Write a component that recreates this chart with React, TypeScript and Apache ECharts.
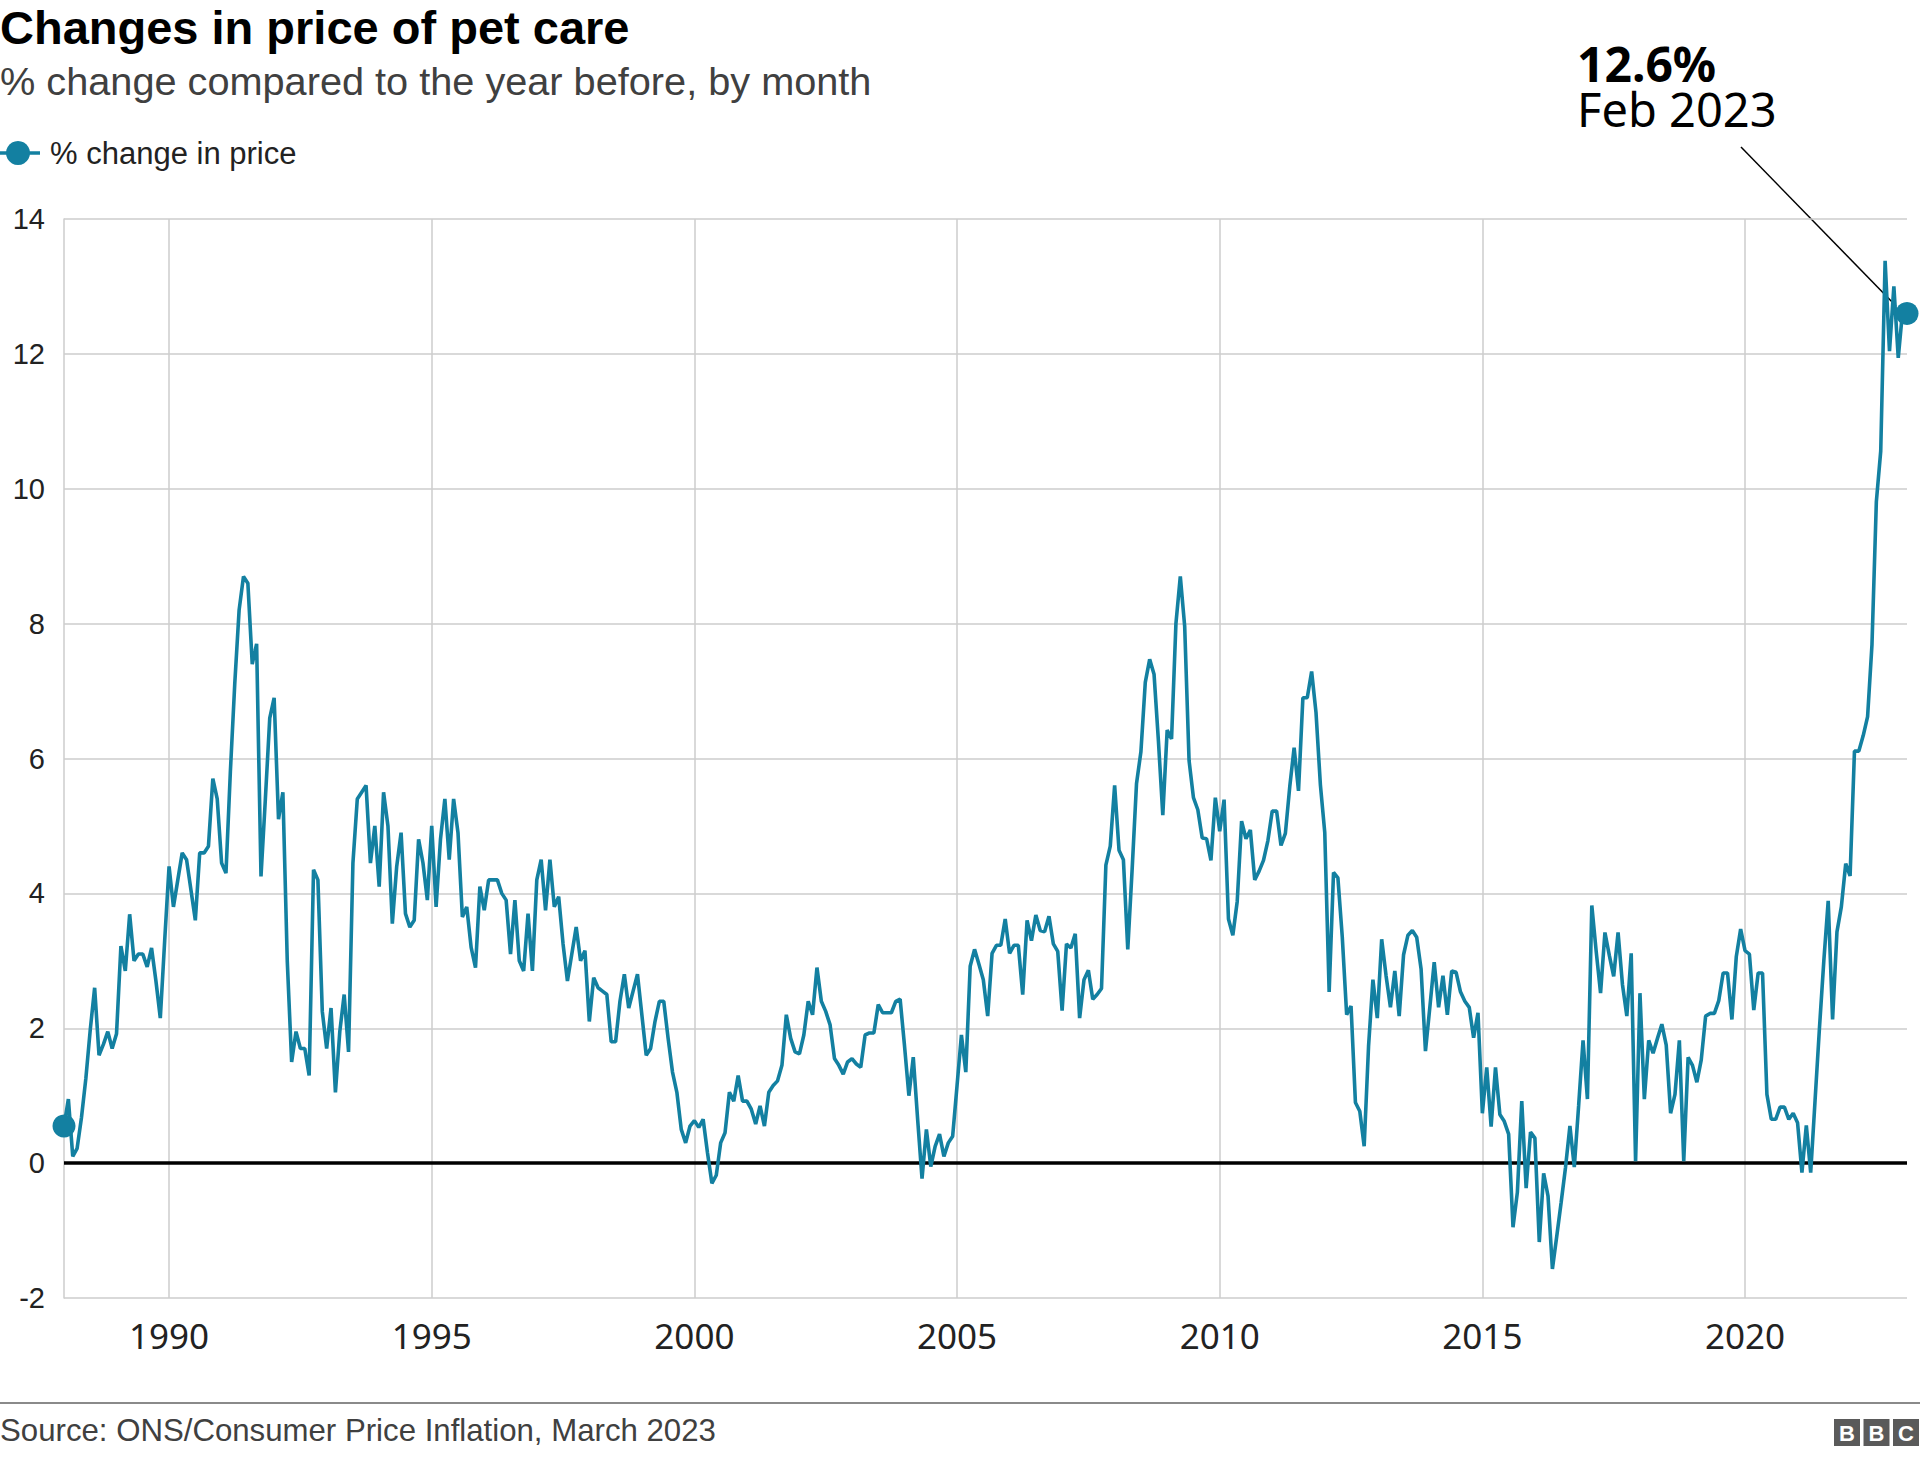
import React, { useEffect, useRef } from "react";
import * as echarts from "echarts";

// Monthly % change in price of pet care, year on year (Jan 1988 – Feb 2023)
const p1988 = [0.55, 0.95, 0.1, 0.22, 0.68, 1.26, 1.98, 2.6, 1.6, 1.76, 1.95, 1.7];
const p1989 = [1.92, 3.22, 2.85, 3.69, 3.0, 3.1, 3.1, 2.91, 3.19, 2.7, 2.15, 3.3];
const p1990 = [4.4, 3.8, 4.2, 4.6, 4.5, 4.05, 3.6, 4.6, 4.6, 4.7, 5.7, 5.4];
const p1991 = [4.45, 4.3, 5.8, 7.1, 8.2, 8.7, 8.6, 7.4, 7.7, 4.25, 5.4, 6.6];
const p1992 = [6.9, 5.1, 5.5, 3.0, 1.5, 1.95, 1.7, 1.7, 1.3, 4.35, 4.2, 2.25];
const p1993 = [1.7, 2.3, 1.05, 1.95, 2.5, 1.65, 4.45, 5.4, 5.5, 5.6, 4.45, 5.0];
const p1994 = [4.1, 5.5, 5.0, 3.55, 4.4, 4.9, 3.7, 3.5, 3.6, 4.8, 4.45, 3.9];
const p1995 = [5.0, 3.8, 4.8, 5.4, 4.5, 5.4, 4.9, 3.65, 3.8, 3.2, 2.9, 4.1];
const p1996 = [3.75, 4.2, 4.2, 4.2, 4.0, 3.9, 3.1, 3.9, 3.0, 2.85, 3.7, 2.85];
const p1997 = [4.2, 4.5, 3.75, 4.5, 3.8, 3.95, 3.25, 2.7, 3.1, 3.5, 3.0, 3.15];
const p1998 = [2.1, 2.75, 2.6, 2.55, 2.5, 1.8, 1.8, 2.4, 2.8, 2.3, 2.55, 2.8];
const p1999 = [2.2, 1.6, 1.7, 2.1, 2.4, 2.4, 1.85, 1.35, 1.05, 0.5, 0.3, 0.55];
const p2000 = [0.63, 0.53, 0.65, 0.15, -0.3, -0.18, 0.3, 0.45, 1.05, 0.92, 1.3, 0.92];
const p2001 = [0.92, 0.8, 0.58, 0.85, 0.55, 1.05, 1.15, 1.22, 1.45, 2.2, 1.85, 1.65];
const p2002 = [1.62, 1.9, 2.4, 2.2, 2.9, 2.4, 2.25, 2.05, 1.55, 1.45, 1.32, 1.5];
const p2003 = [1.55, 1.47, 1.42, 1.9, 1.93, 1.93, 2.35, 2.23, 2.23, 2.23, 2.4, 2.43];
const p2004 = [1.74, 1.0, 1.57, 0.65, -0.23, 0.5, -0.05, 0.25, 0.43, 0.1, 0.3, 0.4];
const p2005 = [1.15, 1.9, 1.35, 2.92, 3.17, 2.95, 2.72, 2.18, 3.11, 3.23, 3.23, 3.62];
const p2006 = [3.11, 3.23, 3.23, 2.5, 3.6, 3.3, 3.68, 3.45, 3.43, 3.66, 3.25, 3.14];
const p2007 = [2.26, 3.25, 3.19, 3.4, 2.15, 2.72, 2.86, 2.43, 2.5, 2.59, 4.42, 4.7];
const p2008 = [5.6, 4.64, 4.5, 3.17, 4.36, 5.63, 6.1, 7.13, 7.47, 7.25, 6.26, 5.16];
const p2009 = [6.42, 6.29, 8.0, 8.7, 7.96, 5.97, 5.42, 5.24, 4.82, 4.81, 4.49, 5.42];
const p2010 = [4.92, 5.39, 3.62, 3.38, 3.88, 5.07, 4.81, 4.94, 4.2, 4.33, 4.49, 4.78];
const p2011 = [5.22, 5.22, 4.71, 4.89, 5.58, 6.16, 5.52, 6.9, 6.9, 7.29, 6.68, 5.61];
const p2012 = [4.9, 2.54, 4.31, 4.23, 3.35, 2.2, 2.33, 0.9, 0.77, 0.25, 1.73, 2.72];
const p2013 = [2.15, 3.32, 2.78, 2.31, 2.85, 2.18, 3.09, 3.38, 3.45, 3.35, 2.88, 1.66];
const p2014 = [2.31, 2.98, 2.31, 2.78, 2.2, 2.85, 2.83, 2.54, 2.4, 2.31, 1.86, 2.23];
const p2015 = [0.74, 1.42, 0.54, 1.42, 0.72, 0.62, 0.43, -0.95, -0.43, 0.92, -0.37, 0.46];
const p2016 = [0.37, -1.17, -0.15, -0.49, -1.57, -1.08, -0.58, -0.06, 0.55, -0.06, 0.86, 1.82];
const p2017 = [0.95, 3.82, 3.14, 2.52, 3.42, 3.08, 2.77, 3.42, 2.65, 2.18, 3.11, 0.03];
const p2018 = [2.52, 0.95, 1.82, 1.63, 1.85, 2.06, 1.75, 0.74, 1.02, 1.82, 0.03, 1.57];
const p2019 = [1.45, 1.2, 1.53, 2.18, 2.22, 2.22, 2.41, 2.82, 2.82, 2.13, 3.06, 3.47];
const p2020 = [3.15, 3.1, 2.27, 2.82, 2.82, 1.02, 0.65, 0.65, 0.83, 0.83, 0.65, 0.74];
const p2021 = [0.6, -0.14, 0.56, -0.14, 0.93, 2.0, 3.0, 3.89, 2.13, 3.43, 3.8, 4.44];
const p2022 = [4.26, 6.11, 6.11, 6.34, 6.62, 7.69, 9.81, 10.56, 13.38, 12.04, 13.0, 11.94];
const p2023 = [12.64, 12.6];

const START_YEAR = 1988;
const MONTHS = ["Jan", "Feb", "Mar", "Apr", "May", "Jun", "Jul", "Aug", "Sep", "Oct", "Nov", "Dec"];
const Y_TICKS = [-2, 0, 2, 4, 6, 8, 10, 12, 14];
const LABEL_EVERY_YEARS = 5;

const TITLE = "Changes in price of pet care";
const SUBTITLE = "% change compared to the year before, by month";
const SERIES_NAME = "% change in price";
const SOURCE = "Source: ONS/Consumer Price Inflation, March 2023";
const ANNOT_VALUE = "12.6%";
const ANNOT_DATE = "Feb 2023";

const values: number[] = ([] as number[]).concat(
  p1988, p1989, p1990, p1991, p1992, p1993, p1994, p1995, p1996, p1997,
  p1998, p1999, p2000, p2001, p2002, p2003, p2004, p2005, p2006, p2007,
  p2008, p2009, p2010, p2011, p2012, p2013, p2014, p2015, p2016, p2017,
  p2018, p2019, p2020, p2021, p2022, p2023
);
const categories = values.map(
  (_, i) => `${MONTHS[i % 12]} ${START_YEAR + Math.floor(i / 12)}`
);

const BLUE = "#1380A1";
const GRID = "#cccccc";

const isMajor = (index: number) =>
  index % 12 === 0 && (START_YEAR + index / 12) % LABEL_EVERY_YEARS === 0;

export default function App() {
  const ref = useRef<HTMLDivElement>(null);

  useEffect(() => {
    if (!ref.current) return;
    const chart = echarts.init(ref.current, undefined, { renderer: "svg" });
    const last = values.length - 1;

    const option: any = {
      animation: false,
      backgroundColor: "#ffffff",
      grid: {
        left: 64,
        right: 13,
        top: 219,
        bottom: 159,
        containLabel: false,
        outerBoundsMode: "none",
      },
      xAxis: {
        type: "category",
        data: categories,
        boundaryGap: false,
        axisLine: { show: false, onZero: false },
        axisTick: { show: false, interval: (i: number) => isMajor(i) },
        axisLabel: {
          interval: (i: number) => isMajor(i),
          formatter: (v: string) => v.split(" ")[1],
          fontFamily: "Noto Sans",
          fontSize: 35,
          color: "#222222",
          margin: 20,
        },
        splitLine: {
          show: true,
          interval: (i: number) => isMajor(i),
          lineStyle: { color: GRID, width: 1.5 },
        },
      },
      yAxis: {
        type: "value",
        min: Y_TICKS[0],
        max: Y_TICKS[Y_TICKS.length - 1],
        interval: 2,
        axisLine: { show: true, lineStyle: { color: GRID, width: 1.5 } },
        axisTick: { show: false },
        axisLabel: {
          fontFamily: "Liberation Sans",
          fontSize: 29,
          color: "#222222",
          margin: 19,
        },
        splitLine: { show: true, lineStyle: { color: GRID, width: 1.5 } },
      },
      series: [
        {
          name: SERIES_NAME,
          type: "line",
          data: values,
          symbol: "none",
          lineStyle: { color: BLUE, width: 3.6 },
          z: 3,
          markLine: {
            silent: true,
            symbol: ["none", "none"],
            label: { show: false },
            lineStyle: { color: "#000000", width: 3.5, type: "solid" },
            data: [{ yAxis: 0 }],
            z: 2,
          },
        },
        {
          type: "scatter",
          data: [
            [0, values[0]],
            [last, values[last]],
          ],
          symbolSize: 23,
          itemStyle: { color: BLUE, opacity: 1 },
          z: 4,
        },
      ],
      graphic: [
        {
          type: "text",
          x: 0,
          y: 27,
          style: {
            text: TITLE,
            fontFamily: "Liberation Sans",
            fontWeight: "bold",
            fontSize: 47,
            fill: "#000000",
            align: "left",
            verticalAlign: "middle",
          },
        },
        {
          type: "text",
          x: 0,
          y: 81,
          style: {
            text: SUBTITLE,
            fontFamily: "Liberation Sans",
            fontSize: 39.7,
            fill: "#404040",
            align: "left",
            verticalAlign: "middle",
          },
        },
        {
          type: "line",
          shape: { x1: 0, y1: 153, x2: 40, y2: 153 },
          style: { stroke: BLUE, lineWidth: 3.6 },
        },
        {
          type: "circle",
          shape: { cx: 18, cy: 153, r: 12 },
          style: { fill: BLUE },
        },
        {
          type: "text",
          x: 50,
          y: 153,
          style: {
            text: SERIES_NAME,
            fontFamily: "Liberation Sans",
            fontSize: 31,
            fill: "#222222",
            align: "left",
            verticalAlign: "middle",
          },
        },
        {
          type: "line",
          shape: { x1: 1741, y1: 147, x2: 1896, y2: 306 },
          style: { stroke: "#000000", lineWidth: 1.5 },
        },
        {
          type: "text",
          x: 1577,
          y: 40,
          style: {
            text: `{v|${ANNOT_VALUE}}\n{d|${ANNOT_DATE}}`,
            align: "left",
            verticalAlign: "top",
            rich: {
              v: {
                fontFamily: "Noto Sans",
                fontWeight: "bold",
                fontSize: 48,
                lineHeight: 46,
                fill: "#000000",
              },
              d: {
                fontFamily: "Noto Sans",
                fontSize: 47,
                lineHeight: 46,
                fill: "#000000",
              },
            },
          },
        },
        {
          type: "rect",
          shape: { x: 0, y: 1402, width: 1920, height: 2 },
          style: { fill: "#8a8a8a" },
        },
        {
          type: "text",
          x: 0,
          y: 1430,
          style: {
            text: SOURCE,
            fontFamily: "Liberation Sans",
            fontSize: 31.2,
            fill: "#404040",
            align: "left",
            verticalAlign: "middle",
          },
        },
        ...["B", "B", "C"].flatMap((ch, k) => [
          {
            type: "rect",
            shape: { x: 1834 + k * 29.5, y: 1419, width: 26, height: 27 },
            style: { fill: "#5a5a5a" },
          },
          {
            type: "text",
            x: 1834 + k * 29.5 + 13,
            y: 1433,
            style: {
              text: ch,
              fontFamily: "Liberation Sans",
              fontWeight: "bold",
              fontSize: 22,
              fill: "#ffffff",
              align: "center",
              verticalAlign: "middle",
            },
          },
        ]),
      ],
    };

    chart.setOption(option);
    return () => chart.dispose();
  }, []);

  return (
    <div
      ref={ref}
      style={{
        position: "fixed",
        left: 0,
        top: 0,
        width: 1920,
        height: 1457,
        background: "#ffffff",
      }}
    />
  );
}
